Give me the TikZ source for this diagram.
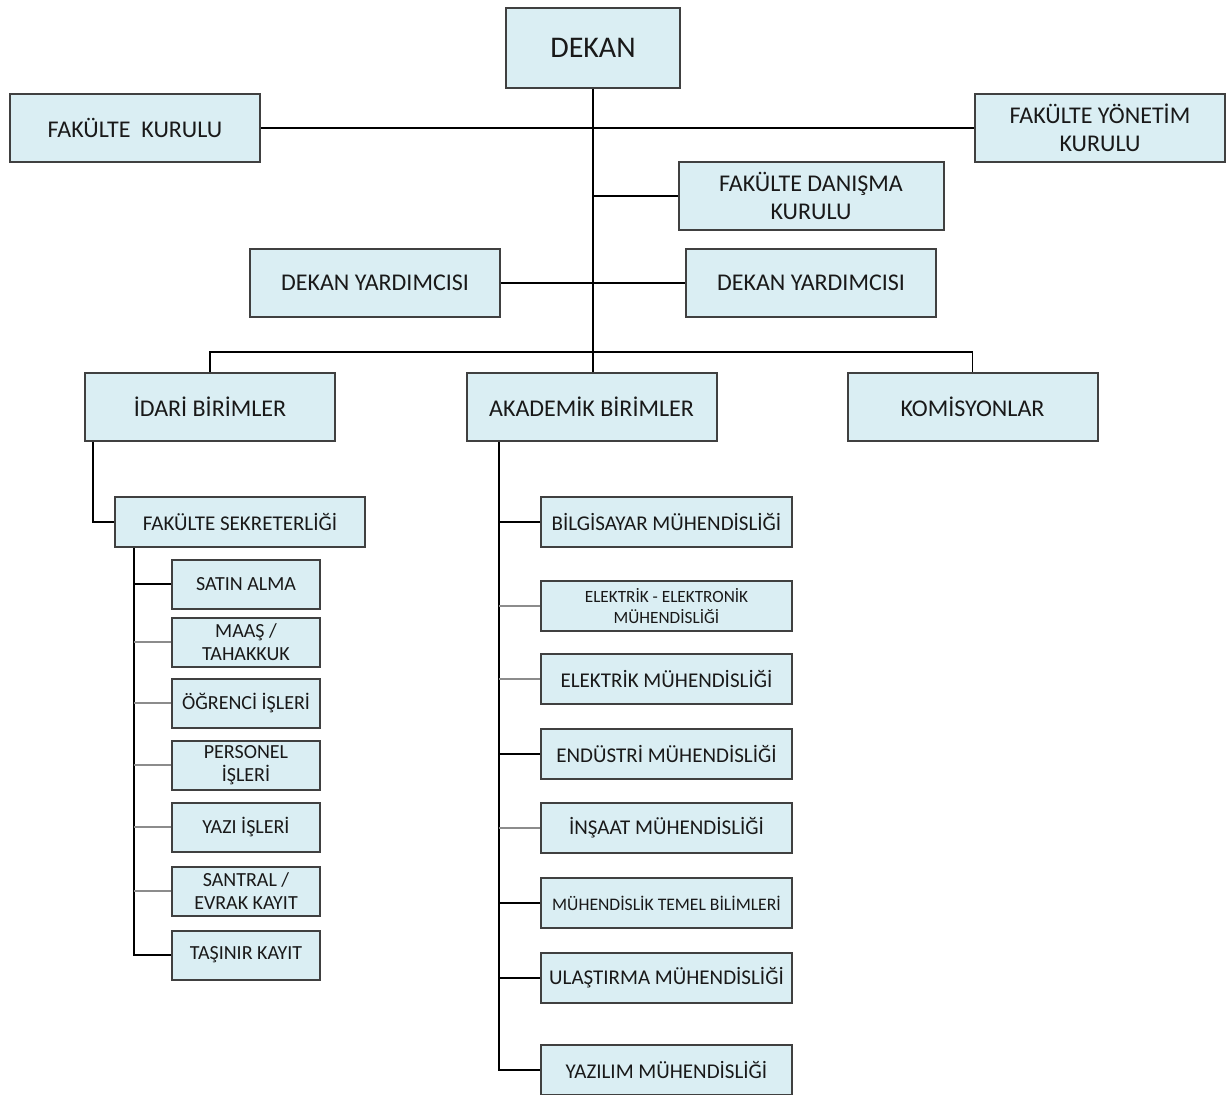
\documentclass[tikz,border=0pt]{standalone}
\usepackage{fontspec}
\setmainfont{Carlito}
\definecolor{boxfill}{HTML}{DAEEF3}
\definecolor{boxline}{HTML}{404040}
\definecolor{linkgray}{HTML}{8C8C8C}
\tikzset{
  unit/.style={draw=boxline, line width=1pt, fill=boxfill, inner sep=1pt, align=center, text=black!90},
  bigbox/.style={unit, minimum width=125pt, minimum height=34pt, font=\fontsize{12}{14}\selectfont},
  secbox/.style={unit, minimum width=125pt, minimum height=25pt, font=\fontsize{10.5}{12.5}\selectfont},
  idbox/.style={unit, minimum width=74pt, minimum height=24.5pt, font=\fontsize{10}{11.5}\selectfont},
  akbox/.style={unit, minimum width=125.5pt, minimum height=25pt, font=\fontsize{10.5}{12.5}\selectfont},
  link/.style={line width=0.9pt, black},
  glink/.style={line width=0.9pt, linkgray}
}
\begin{document}
\begin{tikzpicture}[x=0.5pt, y=-0.5pt, line cap=butt, line join=miter]
    \useasboundingbox (0,0) rectangle (1229,1095);
    % top level
    \node[unit, minimum width=87pt, minimum height=40pt, font=\fontsize{15}{17}\selectfont] (dekan) at (593,48) {DEKAN};
    \node[bigbox] (fkurul) at (135,128) {FAKÜLTE\ \ KURULU};
    \node[bigbox] (fyonetim) at (1100,128) {FAKÜLTE YÖNETİM\\KURULU};
    \node[bigbox, minimum width=132.5pt] (danisma) at (811,196) {FAKÜLTE DANIŞMA\\KURULU};
    \node[bigbox] (yrd1) at (375,283) {DEKAN YARDIMCISI};
    \node[bigbox] (yrd2) at (811,283) {DEKAN YARDIMCISI};
    % units
    \node[bigbox] (idari) at (210,407) {İDARİ BİRİMLER};
    \node[bigbox] (akademik) at (591.5,407) {AKADEMİK BİRİMLER};
    \node[bigbox] (komisyon) at (972.5,407) {KOMİSYONLAR};
    % administrative units
    \node[secbox] (sekreter) at (240,522) {FAKÜLTE SEKRETERLİĞİ};
    \node[idbox] (satin) at (246,584) {SATIN ALMA};
    \node[idbox] (maas) at (246,642) {MAAŞ /\\TAHAKKUK};
    \node[idbox] (ogrenci) at (246,703) {ÖĞRENCİ İŞLERİ};
    \node[idbox] (personel) at (246,765) {PERSONEL\\İŞLERİ};
    \node[idbox] (yazi) at (246,827) {YAZI İŞLERİ};
    \node[idbox] (santral) at (246,891) {SANTRAL /\\EVRAK KAYIT};
    \node[idbox] (tasinir) at (246,955) {TAŞINIR KAYIT};
    % academic units
    \node[akbox] (bilgisayar) at (666.5,522) {BİLGİSAYAR MÜHENDİSLİĞİ};
    \node[akbox, font=\fontsize{8.6}{10.5}\selectfont] (eem) at (666.5,606) {ELEKTRİK - ELEKTRONİK\\MÜHENDİSLİĞİ};
    \node[akbox] (elektrik) at (666.5,679) {ELEKTRİK MÜHENDİSLİĞİ};
    \node[akbox] (endustri) at (666.5,754) {ENDÜSTRİ MÜHENDİSLİĞİ};
    \node[akbox] (insaat) at (666.5,828) {İNŞAAT MÜHENDİSLİĞİ};
    \node[akbox, font=\fontsize{8.8}{10.5}\selectfont] (temel) at (666.5,903) {MÜHENDİSLİK TEMEL BİLİMLERİ};
    \node[akbox] (ulastirma) at (666.5,978) {ULAŞTIRMA MÜHENDİSLİĞİ};
    \node[akbox] (yazilim) at (666.5,1070) {YAZILIM MÜHENDİSLİĞİ};
    % main trunk
    \coordinate (bus) at (593,352);
    \draw[link] (dekan.south) -- (bus);
    \draw[link] (fkurul.east) -- (fyonetim.west);
    \draw[link] (danisma.west) -- (danisma.west -| dekan.south);
    \draw[link] (yrd1.east) -- (yrd2.west);
    \draw[link] (idari.north) |- (bus) -| (komisyon.north);
    \draw[link] (bus) -- (bus |- akademik.north);
    % administrative branch
    \draw[link] ([xshift=4.5pt]idari.south west) |- (sekreter.west);
    \coordinate (skbar) at ([xshift=10pt]sekreter.south west);
    \draw[link] (skbar) |- (tasinir.west);
    \draw[link] (satin.west) -- (satin.west -| skbar);
    \foreach \n in {maas,ogrenci,personel,yazi,santral}
      \draw[glink] (\n.west) -- (\n.west -| skbar);
    % academic branch
    \coordinate (akbar) at ([xshift=16.75pt]akademik.south west);
    \draw[link] (akbar) |- (yazilim.west);
    \foreach \n in {bilgisayar,endustri,temel,ulastirma}
      \draw[link] (\n.west) -- (\n.west -| akbar);
    \foreach \n in {eem,elektrik,insaat}
      \draw[glink] (\n.west) -- (\n.west -| akbar);
\end{tikzpicture}
\end{document}
